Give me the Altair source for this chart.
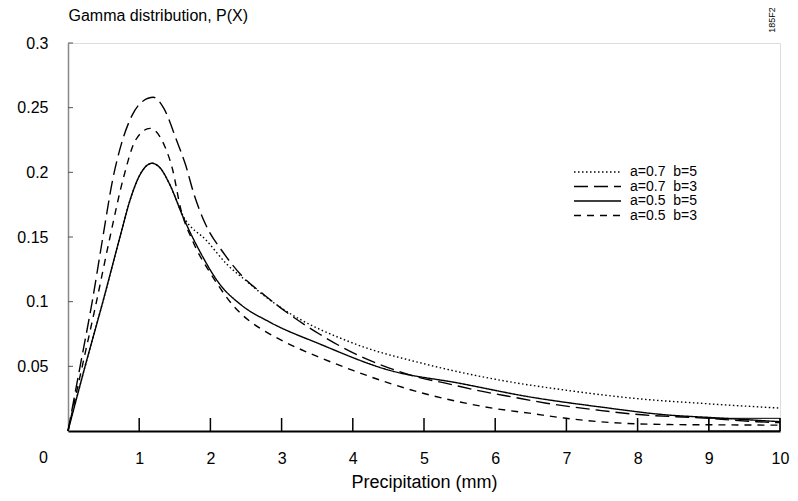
import altair as alt
import pandas as pd

W, H = 712, 388
FONT = "Liberation Sans"

# ---- data ----
series_names = ["a=0.7  b=5", "a=0.7  b=3", "a=0.5  b=5", "a=0.5  b=3"]

x_a07_b5 = [0, 0.24, 0.49, 0.73, 0.88, 1.0, 1.18, 1.3, 1.43, 1.62, 1.95, 2.23, 2.55, 2.70, 3.0, 4.0, 5.0, 6.0, 7.0, 8.0, 9.0, 10]
y_a07_b5 = [0, 0.05, 0.10, 0.15, 0.18, 0.197, 0.207, 0.203, 0.1905, 0.166, 0.147, 0.129, 0.114, 0.107, 0.095, 0.068, 0.052, 0.040, 0.0315, 0.025, 0.021, 0.0177]

x_a07_b3 = [0, 0.17, 0.34, 0.49, 0.63, 0.75, 0.9, 1.05, 1.2, 1.35, 1.53, 1.65, 1.77, 1.93, 2.18, 2.46, 2.77, 3.04, 3.53, 4.02, 4.41, 4.9, 5.3, 5.74, 6.23, 6.72, 7.46, 7.95, 8.93, 9.67, 10]
y_a07_b3 = [0, 0.05, 0.10, 0.15, 0.195, 0.222, 0.244, 0.255, 0.258, 0.249, 0.224, 0.206, 0.183, 0.16, 0.138, 0.119, 0.1046, 0.093, 0.075, 0.060, 0.0508, 0.0418, 0.037, 0.0315, 0.0264, 0.0215, 0.016, 0.013, 0.010, 0.0072, 0.0065]

x_a05_b5 = [0, 0.24, 0.49, 0.73, 0.88, 1.0, 1.18, 1.3, 1.43, 1.62, 1.85, 2.13, 2.42, 2.84, 3.53, 4.51, 5.49, 6.48, 7.46, 8.44, 9.0, 10]
y_a05_b5 = [0, 0.05, 0.10, 0.15, 0.18, 0.197, 0.207, 0.203, 0.1905, 0.165, 0.139, 0.1136, 0.098, 0.084, 0.0674, 0.047, 0.037, 0.0264, 0.0187, 0.0123, 0.0105, 0.0072]

x_a05_b3 = [0, 0.2, 0.4, 0.59, 0.78, 0.95, 1.15, 1.36, 1.47, 1.58, 1.75, 2.0, 2.13, 2.32, 2.55, 2.77, 3.04, 3.53, 4.02, 4.51, 5.0, 5.49, 5.98, 6.48, 6.97, 7.46, 8.44, 9.0, 10]
y_a05_b3 = [0, 0.05, 0.10, 0.15, 0.196, 0.225, 0.234, 0.22, 0.202, 0.1725, 0.147, 0.122, 0.111, 0.097, 0.085, 0.077, 0.069, 0.057, 0.0465, 0.037, 0.029, 0.0226, 0.0175, 0.0138, 0.010, 0.0072, 0.005, 0.0048, 0.0045]

x_ticks = [1, 2, 3, 4, 5, 6, 7, 8, 9, 10]
y_ticks = [0.05, 0.1, 0.15, 0.2, 0.25, 0.3]

dash_styles = [[1.5, 2.5], [14, 6], [1, 0], [7, 6]]

# ---- build table ----
rows = []
for name, xs, ys in zip(series_names,
                        [x_a07_b5, x_a07_b3, x_a05_b5, x_a05_b3],
                        [y_a07_b5, y_a07_b3, y_a05_b5, y_a05_b3]):
    for xv, yv in zip(xs, ys):
        rows.append({"series": name, "x": xv, "y": yv})
df = pd.DataFrame(rows)

xscale = alt.Scale(domain=[0, 10], nice=False, zero=True)
yscale = alt.Scale(domain=[0, 0.3], nice=False)

lines = alt.Chart(df).mark_line(color="black", strokeWidth=1.4, interpolate="monotone").encode(
    x=alt.X("x:Q", scale=xscale, axis=alt.Axis(
        values=x_ticks, format="~g", ticks=False, tickSize=0, grid=False, labelFont=FONT,
        labelFontSize=16, labelColor="black", labelPadding=27, labelBaseline="middle",
        labelFlush=False, domainColor="black", domainWidth=2,
        title="Precipitation (mm)", titleFont=FONT, titleFontSize=18, titleFontWeight="normal",
        titleColor="black", titleY=51, titleBaseline="middle")),
    y=alt.Y("y:Q", scale=yscale, axis=alt.Axis(
        values=y_ticks, format="~g", ticks=False, tickSize=0, grid=False, labelFont=FONT,
        labelFontSize=16, labelColor="black", labelPadding=20, labelFlush=False,
        domainColor="#888888", domainWidth=1.5,
        title="Gamma distribution, P(X)", titleFont=FONT, titleFontSize=16,
        titleFontWeight="normal", titleColor="black", titleAngle=0, titleAlign="left",
        titleBaseline="middle", titleX=0, titleY=-28)),
    strokeDash=alt.StrokeDash("series:N", scale=alt.Scale(domain=series_names, range=dash_styles), legend=None),
    detail="series:N",
)

xt = alt.Chart(pd.DataFrame({"t": x_ticks})).mark_rule(color="black", strokeWidth=1.5).encode(
    x=alt.X("t:Q", scale=xscale), y=alt.value(H - 13), y2=alt.value(H))

yt = alt.Chart(pd.DataFrame({"t": y_ticks})).mark_rule(color="#555555", strokeWidth=1).encode(
    y=alt.Y("t:Q", scale=yscale), x=alt.value(0), x2=alt.value(5))

box = alt.Chart(pd.DataFrame({"x0": [9], "x1": [10], "y0": [0], "y1": [0.0098]})).mark_rect(
    fill=None, fillOpacity=0, stroke="black", strokeWidth=1).encode(
    x=alt.X("x0:Q", scale=xscale), x2="x1:Q", y=alt.Y("y0:Q", scale=yscale), y2="y1:Q")

zero_lbl = alt.Chart(pd.DataFrame({"t": ["0"]})).mark_text(
    font=FONT, fontSize=16, align="right", baseline="middle", color="black").encode(
    text="t:N", x=alt.value(-20), y=alt.value(H + 27))

code_lbl = alt.Chart(pd.DataFrame({"t": ["185F2"]})).mark_text(
    font=FONT, fontSize=9, angle=270, align="center", baseline="middle", color="black").encode(
    text="t:N", x=alt.value(704), y=alt.value(-23))

legend_layers = []
row_y = [129, 143.5, 158, 172.5]
disp = [s.replace(" ", "\u00a0") for s in series_names]
for i, (lab, d) in enumerate(zip(disp, dash_styles)):
    ldf = pd.DataFrame({"t": [lab]})
    legend_layers.append(alt.Chart(ldf).mark_rule(color="black", strokeWidth=1.4, strokeDash=d).encode(
        x=alt.value(506), x2=alt.value(553), y=alt.value(row_y[i])))
    legend_layers.append(alt.Chart(ldf).mark_text(
        font=FONT, fontSize=14, align="left", baseline="middle", color="black").encode(
        text="t:N", x=alt.value(562), y=alt.value(row_y[i])))

chart = alt.layer(lines, xt, yt, box, zero_lbl, code_lbl, *legend_layers).properties(
    width=W, height=H,
    autosize=alt.AutoSizeParams(type="none"),
    padding={"left": 60, "top": 35, "right": 10, "bottom": 62},
).configure_view(stroke=None).configure(background="white")

chart.save("out.html", embed_options={"renderer": "svg", "actions": False})
